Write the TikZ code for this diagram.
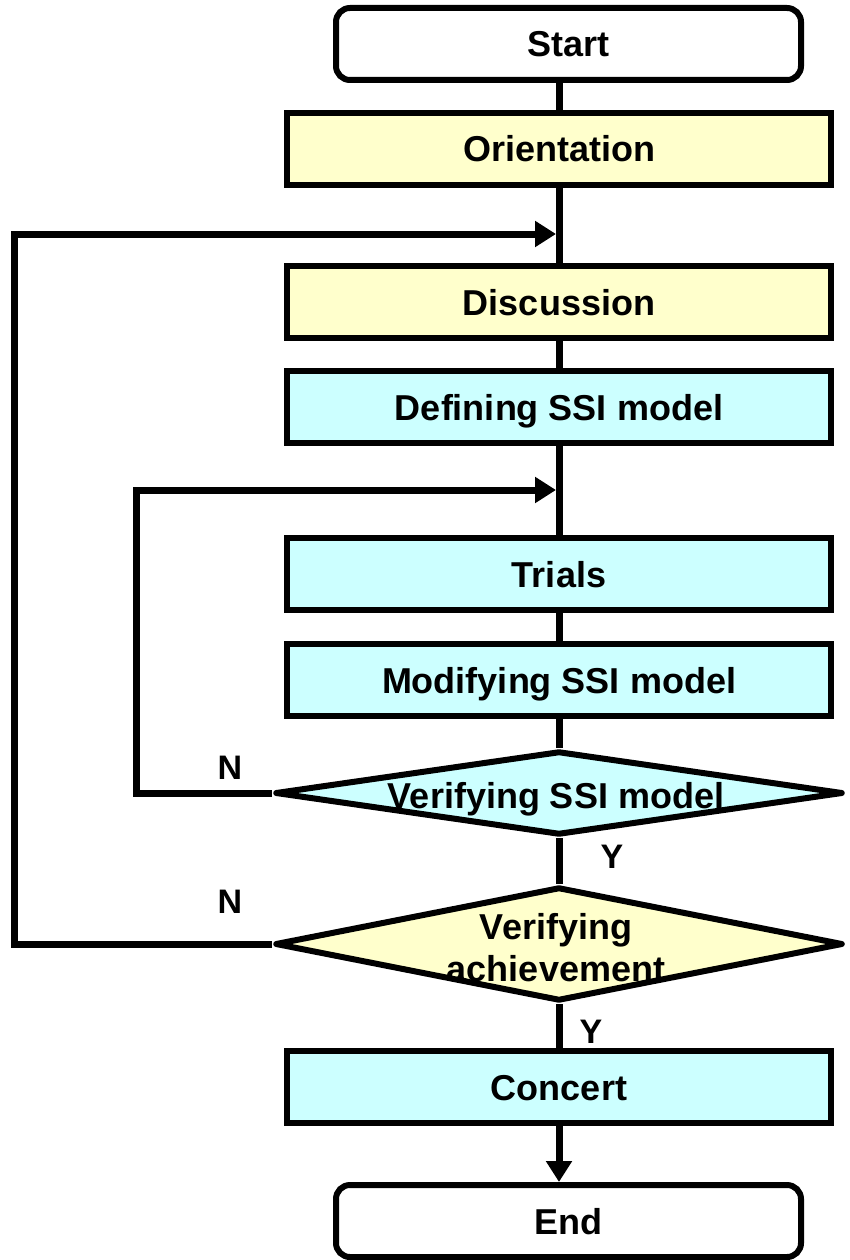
\documentclass[tikz,border=0pt]{standalone}
\usepackage{fontspec}
\setmainfont{Liberation Sans}
\usetikzlibrary{shapes.geometric,arrows.meta}
\definecolor{pyellow}{HTML}{FFFFCC}
\definecolor{pcyan}{HTML}{CCFFFF}
\begin{document}
\begin{tikzpicture}[x=1pt,y=-1pt,
  txt/.style={font=\fontsize{36}{42}\selectfont\bfseries, text height=26pt, text depth=0pt},
  box/.style={draw, line width=6pt, minimum width=544pt, minimum height=72pt, inner sep=0pt, txt},
  term/.style={box, fill=white, rounded corners=14pt, minimum width=465pt},
  ybox/.style={box, fill=pyellow},
  cbox/.style={box, fill=pcyan},
  dia/.style={draw, diamond, line width=6pt, line join=round, inner sep=0pt, minimum width=568pt},
  conn/.style={line width=7pt},
  arr/.style={conn, -{Triangle[length=21pt,width=25pt]}},
  lab/.style={font=\fontsize{34}{40}\selectfont\bfseries}
]
\useasboundingbox (0,0) rectangle (850,1260);

\node[term] (start) at (568.5,44) {Start};
\node[ybox] (ori) at (559,149) {Orientation};
\node[ybox] (disc) at (559,302) {Discussion};
\node[cbox] (def) at (559,407) {Defining SSI model};
\node[cbox] (trials) at (559,574) {Trials};
\node[cbox] (mod) at (559,680) {Modifying SSI model};
\node[dia, fill=pcyan, minimum height=84pt] (d1) at (559,793) {};
\node[txt] (d1t) at (556,795) {Verifying SSI model};
\node[dia, fill=pyellow, minimum height=114pt] (d2) at (559,944) {};
\node[font=\fontsize{36}{42}\selectfont\bfseries, align=center, inner sep=0pt] (d2t) at (556,948) {Verifying\\achievement};
\node[cbox] (conc) at (559,1087) {Concert};
\node[term] (end) at (568.5,1221) {End};

\coordinate (j1) at (556,234);
\coordinate (j2) at (556,490);
\coordinate (c1) at (14.5,944);
\coordinate (c2) at (136,793);

\draw[conn] (start.south -| ori.north) -- (ori.north);
\draw[conn] (ori.south) -- (disc.north);
\draw[conn] (disc.south) -- (def.north);
\draw[conn] (def.south) -- (trials.north);
\draw[conn] (trials.south) -- (mod.north);
\draw[conn] (mod.south) -- (d1.north);
\draw[conn] (d1.south) -- (d2.north);
\draw[conn] (d2.south) -- (conc.north);
\draw[arr] (conc.south) -- (conc.south |- end.north);
\draw[arr] (d2.west) -- (c1) |- (j1);
\draw[arr] (d1.west) -- (c2) |- (j2);

\node[lab] (n1) at (230,768) {N};
\node[lab] (y1) at (612,857) {Y};
\node[lab] (n2) at (230,902) {N};
\node[lab] (y2) at (591,1032) {Y};
\end{tikzpicture}
\end{document}
